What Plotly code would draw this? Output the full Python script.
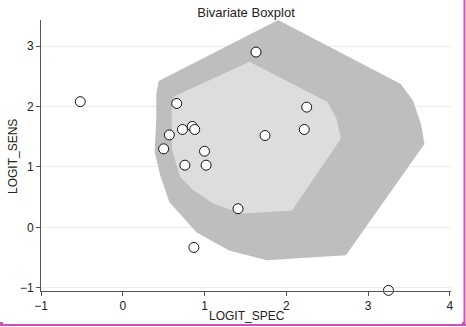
import plotly.graph_objects as go

# Data points
logit_spec = [-0.52, 0.50, 0.57, 0.66, 0.73, 0.76, 0.85, 0.87, 0.88, 1.00, 1.02, 1.41, 1.63, 1.74, 2.22, 2.25, 3.25, 4.04]
logit_sens = [2.08, 1.30, 1.53, 2.05, 1.62, 1.03, 1.67, -0.33, 1.62, 1.26, 1.03, 0.31, 2.90, 1.52, 1.62, 1.99, -1.04, 2.21]

# Outer region (fence) polygon
outer_x = [1.90, 3.40, 3.55, 3.65, 3.69, 2.73, 1.76, 1.30, 0.90, 0.57, 0.46, 0.39, 0.41, 0.41, 0.44]
outer_y = [3.43, 2.37, 2.10, 1.70, 1.38, -0.46, -0.54, -0.38, -0.08, 0.42, 0.85, 1.25, 1.80, 2.20, 2.42]

# Inner region (hinge) polygon
inner_x = [1.55, 2.50, 2.61, 2.67, 2.07, 1.45, 1.10, 0.86, 0.70, 0.60, 0.60, 0.62]
inner_y = [2.74, 2.08, 1.82, 1.47, 0.28, 0.23, 0.40, 0.62, 0.84, 1.30, 2.00, 2.16]

x_ticks = [-1, 0, 1, 2, 3, 4]
y_ticks = [-1, 0, 1, 2, 3]

fig = go.Figure()
fig.add_trace(go.Scatter(x=outer_x + outer_x[:1], y=outer_y + outer_y[:1], fill="toself",
                         fillcolor="#bebebe", line=dict(width=0), mode="lines",
                         hoverinfo="skip", showlegend=False))
fig.add_trace(go.Scatter(x=inner_x + inner_x[:1], y=inner_y + inner_y[:1], fill="toself",
                         fillcolor="#dddddd", line=dict(width=0), mode="lines",
                         hoverinfo="skip", showlegend=False))
fig.add_trace(go.Scatter(x=logit_spec, y=logit_sens, mode="markers",
                         marker=dict(size=10, color="white", line=dict(color="#111111", width=1)),
                         cliponaxis=False, showlegend=False))

font = "Liberation Sans, Arial, Helvetica, sans-serif"
fig.update_layout(
    width=466, height=327,
    margin=dict(l=41, r=15, t=20, b=36, autoexpand=False),
    paper_bgcolor="white", plot_bgcolor="white",
    font=dict(family=font, size=12, color="#222222"),
    title=dict(text="Bivariate Boxplot", x=0.528, xanchor="center", y=1 - 12 / 327,
               yanchor="middle", font=dict(size=13, color="#222222")),
    xaxis=dict(range=[-1, 4.015], tickvals=x_ticks, showgrid=False, zeroline=False,
               showline=True, linecolor="#555555", linewidth=1, ticks="outside",
               ticklen=4, tickcolor="#555555", automargin=False),
    yaxis=dict(range=[-1.05, 3.43], tickvals=y_ticks, showgrid=True, gridcolor="#ececec",
               zeroline=False, showline=True, linecolor="#555555", linewidth=1,
               ticks="outside", ticklen=4, tickcolor="#555555", automargin=False),
)

def px_x(p):
    return (p - 41) / 410.0

def px_y(p):
    return (291 - p) / 271.0

# axis titles
fig.add_annotation(text="LOGIT_SPEC", xref="paper", yref="paper", x=px_x(247), y=px_y(316),
                   xanchor="center", yanchor="middle", showarrow=False, font=dict(size=12))
fig.add_annotation(text="LOGIT_SENS", xref="paper", yref="paper", x=px_x(13), y=px_y(156),
                   xanchor="center", yanchor="middle", showarrow=False, textangle=-90,
                   font=dict(size=12))

# magenta frame fragments (page border)
mag = "rgb(204,80,182)"
fig.add_shape(type="line", xref="paper", yref="paper", x0=px_x(0), x1=px_x(466),
              y0=px_y(325), y1=px_y(325), line=dict(color=mag, width=2))
fig.add_shape(type="line", xref="paper", yref="paper", x0=px_x(464.5), x1=px_x(464.5),
              y0=px_y(0), y1=px_y(326), line=dict(color=mag, width=2))
fig.add_shape(type="rect", xref="paper", yref="paper", x0=px_x(0), x1=px_x(3),
              y0=px_y(326), y1=px_y(322), fillcolor=mag, line=dict(width=0))
fig.add_shape(type="rect", xref="paper", yref="paper", x0=px_x(462), x1=px_x(464),
              y0=px_y(326), y1=px_y(322), fillcolor=mag, line=dict(width=0))

fig.write_html("out.html")
